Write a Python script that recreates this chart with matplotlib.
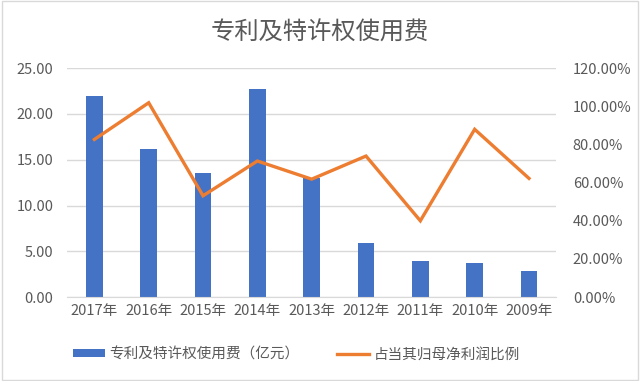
import matplotlib
matplotlib.use('Agg')
import matplotlib.pyplot as plt
from matplotlib.ticker import FuncFormatter
from matplotlib.patches import Rectangle
import numpy as np

plt.rcParams['font.family'] = ['Noto Sans CJK SC', 'DejaVu Sans']

years = ['2017年', '2016年', '2015年', '2014年', '2013年', '2012年', '2011年', '2010年', '2009年']
fee = [21.9, 16.2, 13.6, 22.7, 13.0, 5.9, 4.0, 3.7, 2.85]
ratio = [82.6, 101.8, 53.1, 71.3, 61.8, 73.9, 40.0, 87.9, 62.2]

blue = '#4472C4'
orange = '#ED7D31'
grey = '#595959'

fig = plt.figure(figsize=(6.4, 3.81), dpi=100)
ax = fig.add_axes([0.105, 0.22, 0.764, 0.6015])
ax2 = ax.twinx()

x = np.arange(len(years))
b = ax.bar(x, fee, width=0.31, color=blue, zorder=2)
l, = ax2.plot(x, ratio, color=orange, lw=2.4, solid_joinstyle='miter')

ax.set_xlim(-0.5, len(years) - 0.5)
ax.set_ylim(0, 25)
ax.set_yticks(np.arange(0, 26, 5))
ax.yaxis.set_major_formatter(FuncFormatter(lambda v, p: f'{v:.2f}'))
ax2.set_ylim(0, 120)
ax2.set_yticks(np.arange(0, 121, 20))
ax2.yaxis.set_major_formatter(FuncFormatter(lambda v, p: f'{v:.2f}%'))
ax.set_xticks(x)
ax.set_xticklabels(years)

ax.grid(axis='y', color='#D9D9D9', lw=1, zorder=0)
for a in (ax, ax2):
    for s in a.spines.values():
        s.set_visible(False)
    a.tick_params(length=0, colors=grey, labelsize=10.5)
ax.spines['bottom'].set_visible(True)
ax.spines['bottom'].set_color('#D9D9D9')
ax.tick_params(axis='y', pad=10)
ax2.tick_params(axis='y', pad=12)
ax.tick_params(axis='x', pad=5)

fig.text(0.5, 0.915, '专利及特许权使用费', ha='center', va='center', fontsize=17.5, color=grey)

fig.legend([b, l], ['专利及特许权使用费（亿元）', '占当其归母净利润比例'],
           loc='center', bbox_to_anchor=(0.463, 0.07), ncol=2, frameon=False,
           fontsize=10.5, labelcolor=grey, columnspacing=2.6, handlelength=2.2,
           handleheight=0.45, handletextpad=0.3)

fig.patches.append(Rectangle((0.003, 0.003), 0.994, 0.994, transform=fig.transFigure,
                             fill=False, edgecolor='#D9D9D9', lw=1))

fig.savefig('out.png', dpi=100)
